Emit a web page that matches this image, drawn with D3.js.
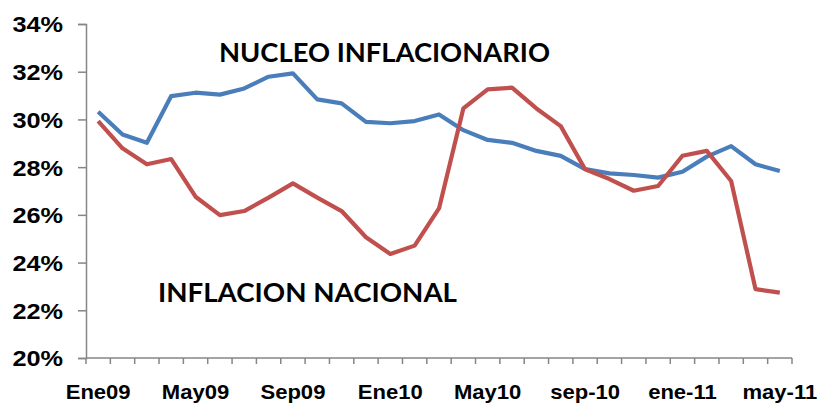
<!DOCTYPE html>
<html><head><meta charset="utf-8">
<script src="https://cdn.jsdelivr.net/npm/d3@7"></script>
<style>html,body{margin:0;padding:0;background:#fff;}svg{display:block;}</style>
</head><body>
<svg id="chart" width="821" height="405"></svg>
<script>
const months = ["Ene09","Feb09","Mar09","Abr09","May09","Jun09","Jul09","Ago09","Sep09","Oct09","Nov09","Dic09",
  "Ene10","Feb10","Mar10","Abr10","May10","Jun10","Jul10","Ago10","sep-10","oct-10","nov-10","dic-10",
  "ene-11","feb-11","mar-11","abr-11","may-11"];
const tickLabels = ["Ene09","May09","Sep09","Ene10","May10","sep-10","ene-11","may-11"];
const nucleo = [30.32,29.37,29.02,30.98,31.12,31.04,31.30,31.79,31.93,30.84,30.67,29.90,
  29.84,29.93,30.21,29.55,29.14,29.02,28.68,28.47,27.92,27.74,27.67,27.56,27.81,28.44,28.88,28.12,27.84];
const nacional = [29.93,28.79,28.12,28.34,26.76,25.99,26.16,26.72,27.32,26.72,26.16,25.06,
  24.36,24.71,26.27,30.46,31.26,31.33,30.46,29.72,27.91,27.50,27.01,27.21,28.48,28.68,27.42,22.89,22.74];
const yTicks = [20,22,24,26,28,30,32,34];

const svg = d3.select("#chart");
const pL = 86, pR = 792, pT = 24, pB = 358;
const x = d3.scaleBand().domain(months).range([pL, pR]).padding(0);
const y = d3.scaleLinear().domain([20, 34]).range([pB, pT]);
const axisColor = "#868686";

// Y axis
const ya = svg.append("g").attr("transform", `translate(${pL},0)`)
  .call(d3.axisLeft(y).tickValues(yTicks).tickSize(8).tickPadding(14).tickFormat(d => d + "%"));
ya.select(".domain").attr("stroke", axisColor).attr("stroke-width", 1.5);
ya.selectAll(".tick line").attr("stroke", axisColor).attr("stroke-width", 1.5);
const sy = 1.15;
ya.selectAll(".tick text")
  .attr("font-family", "'Liberation Sans', Arial, sans-serif").attr("font-weight", "bold")
  .attr("font-size", 22).attr("fill", "#000")
  .attr("x", -23 / sy).attr("transform", `scale(${sy},1)`).attr("dy", "0.36em");

// X axis line and ticks at band boundaries
const boundaries = months.map(m => x(m)).concat([pR]);
svg.append("line").attr("x1", pL).attr("x2", pR).attr("y1", pB).attr("y2", pB)
  .attr("stroke", axisColor).attr("stroke-width", 1.5);
svg.append("g").selectAll("line").data(boundaries).join("line")
  .attr("x1", d => d).attr("x2", d => d).attr("y1", pB).attr("y2", pB + 6)
  .attr("stroke", axisColor).attr("stroke-width", 1.5);

// X labels
const sx = 1.05;
const labelIdx = months.map((m, i) => i).filter(i => i % 4 === 0);
svg.append("g").selectAll("text").data(labelIdx).join("text")
  .attr("transform", i => `translate(${x(months[i]) + x.bandwidth() / 2},399) scale(${sx},1)`)
  .attr("text-anchor", "middle")
  .attr("font-family", "'Liberation Sans', Arial, sans-serif").attr("font-weight", "bold")
  .attr("font-size", 21).attr("fill", "#000")
  .text((i, k) => tickLabels[k]);

// Lines
const line = d3.line().x((d, i) => x(months[i]) + x.bandwidth() / 2).y(d => y(d));
svg.append("path").datum(nucleo).attr("d", line).attr("fill", "none")
  .attr("stroke", "#4A7EBB").attr("stroke-width", 4.2).attr("stroke-linejoin", "round");
svg.append("path").datum(nacional).attr("d", line).attr("fill", "none")
  .attr("stroke", "#C0504D").attr("stroke-width", 4.2).attr("stroke-linejoin", "round");

// Annotations
svg.append("text").attr("x", 219).attr("y", 62).attr("textLength", 331).attr("lengthAdjust", "spacingAndGlyphs")
  .attr("font-family", "Lato, 'Open Sans', sans-serif").attr("font-weight", "bold").attr("font-size", 27)
  .attr("fill", "#000").text("NUCLEO INFLACIONARIO");
svg.append("text").attr("x", 158).attr("y", 302).attr("textLength", 299).attr("lengthAdjust", "spacingAndGlyphs")
  .attr("font-family", "Lato, 'Open Sans', sans-serif").attr("font-weight", "bold").attr("font-size", 26)
  .attr("fill", "#000").text("INFLACION NACIONAL");
</script>
</body></html>
